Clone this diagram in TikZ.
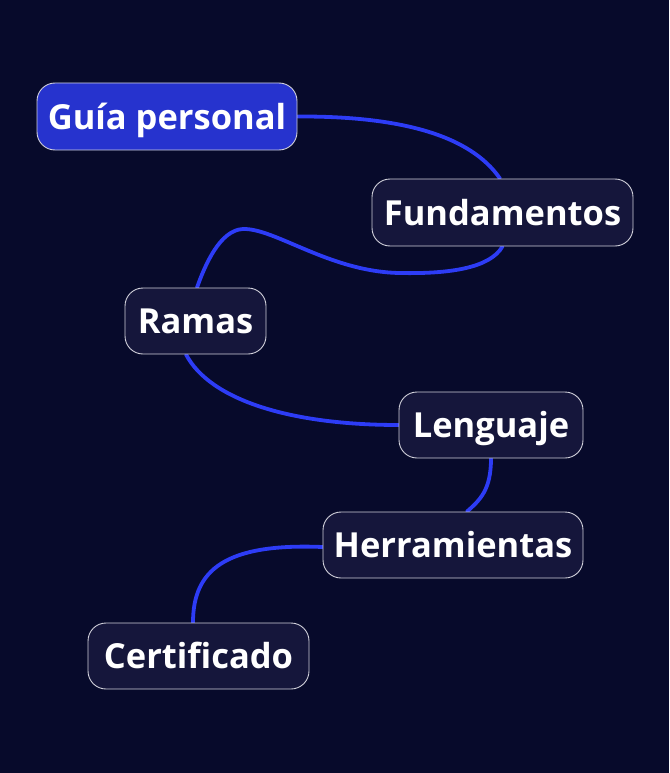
\documentclass[tikz,border=0pt]{standalone}
\usepackage{fontspec}
\setmainfont{Open Sans}
\pgfdeclarelayer{back}
\pgfsetlayers{back,main}
\definecolor{bg}{HTML}{070A2B}
\definecolor{nodefill}{HTML}{15163B}
\definecolor{rootfill}{HTML}{2633CE}
\definecolor{link}{HTML}{2D3CF6}
\definecolor{edge}{HTML}{D0D0DA}
\tikzset{
  box/.style={draw=edge, line width=0.9pt, rounded corners=18pt, fill=nodefill,
    text=white, font=\fontsize{34.5}{40}\selectfont\bfseries, inner sep=0pt,
    text height=27pt, text depth=2pt, anchor=center},
  rootbox/.style={box, fill=rootfill},
  conn/.style={draw=link, line width=3.8pt, line cap=round}
}
\begin{document}
\begin{tikzpicture}[x=1pt,y=-1pt]
\node[rootbox, minimum width=260pt, minimum height=67pt] (g) at (167,116.5) {Guía personal};
\node[box, minimum width=261pt, minimum height=67pt] (f) at (502.5,212.5) {Fundamentos};
\node[box, minimum width=141pt, minimum height=66pt] (r) at (195.5,321) {Ramas};
\node[box, minimum width=184pt, minimum height=66pt] (l) at (491,425) {Lenguaje};
\node[box, minimum width=260pt, minimum height=66pt] (h) at (453,545) {Herramientas};
\node[box, minimum width=221pt, minimum height=66pt] (c) at (198.5,656) {Certificado};
\begin{pgfonlayer}{back}
\fill[bg] (0,0) rectangle (669,773);
\draw[conn] (g.east) .. controls (400,116) and (470,135) .. ([xshift=-2.5pt]f.north);
\draw[conn] (f.south) .. controls (490,268) and (450,274) .. (400,273)
  .. controls (330,272) and (275,228) .. (243,229)
  .. controls (220,230) and (205,265) .. ([xshift=1.5pt]r.north);
\draw[conn] ([xshift=-9.5pt]r.south) .. controls (210,400) and (290,425) .. (l.west);
\draw[conn] (l.south) .. controls (491,490) and (480,500) .. ([xshift=14pt]h.north);
\draw[conn] ([yshift=-2pt]h.west) .. controls (225,543) and (193,570) .. ([xshift=-5.5pt]c.north);
\end{pgfonlayer}
\useasboundingbox (0,0) rectangle (669,773);
\end{tikzpicture}
\end{document}
